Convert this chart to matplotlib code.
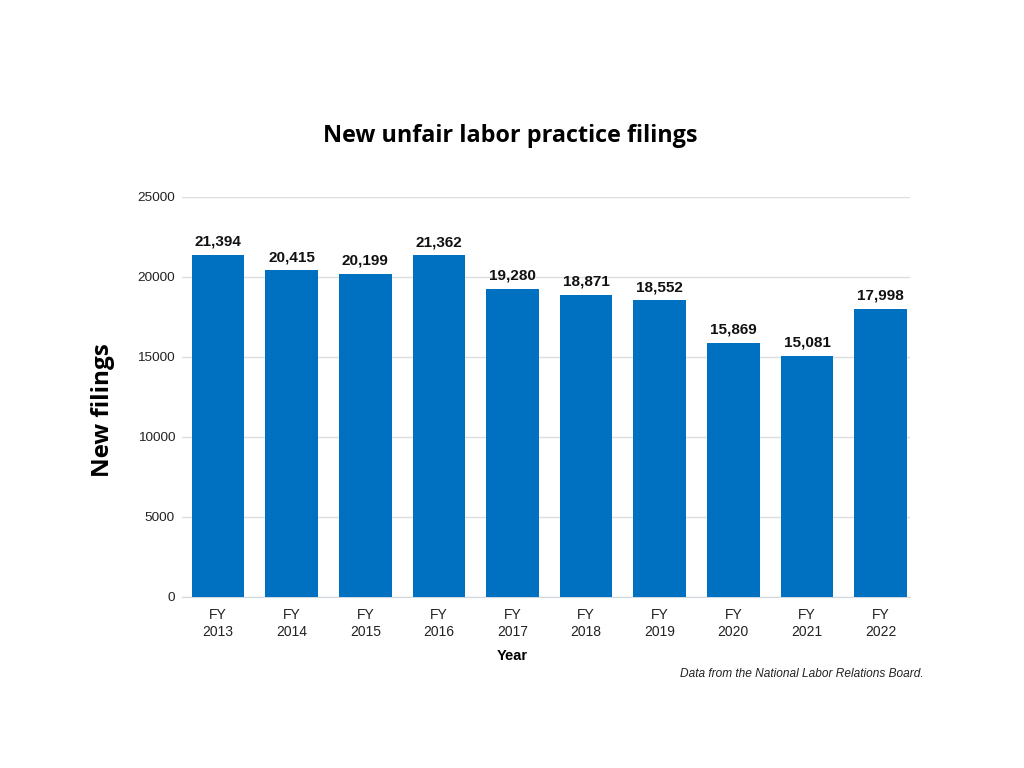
import matplotlib
matplotlib.use('Agg')
from matplotlib import pyplot as plt
import numpy as np

years = ['2013', '2014', '2015', '2016', '2017', '2018', '2019', '2020', '2021', '2022']
filings = [21394, 20415, 20199, 21362, 19280, 18871, 18552, 15869, 15081, 17998]
yticks = [0, 5000, 10000, 15000, 20000, 25000]

plt.rcParams['font.family'] = ['Liberation Sans', 'DejaVu Sans']

fig = plt.figure(figsize=(10.24, 7.68), dpi=100)
ax = fig.add_axes([0.1777, 0.2227, 0.711, 0.5208])

x = np.arange(len(years))
ax.bar(x, filings, width=0.715, color='#0070C0', zorder=3)
for xi, v in zip(x, filings):
    ax.text(xi, v + 380, f'{v:,}', ha='center', va='bottom',
            fontsize=11, fontweight='bold', color='#111111')

ax.set_xlim(-0.49, 9.4)
ax.set_ylim(0, 25000)
ax.set_yticks(yticks)
ax.set_yticklabels([str(t) for t in yticks], fontsize=9.7, color='#222222')
ax.set_xticks(x)
ax.set_xticklabels(['FY\n' + y for y in years], fontsize=10, color='#222222',
                   linespacing=1.3)
ax.tick_params(axis='both', length=0)
ax.tick_params(axis='y', pad=5)
ax.tick_params(axis='x', pad=8)
ax.yaxis.grid(True, color='#dddddd', linewidth=1, zorder=0)
for s in ['top', 'right', 'left']:
    ax.spines[s].set_visible(False)
ax.spines['bottom'].set_color('#cfd8e0')

fig.text(0.5, 0.146, 'Year', ha='center', va='center', fontsize=10.5, fontweight='bold')
fig.text(0.498, 0.823, 'New unfair labor practice filings', ha='center', va='center',
         fontsize=16.8, fontweight='bold', family=['Open Sans', 'DejaVu Sans'])
fig.text(0.101, 0.466, 'New filings', ha='center', va='center', rotation=90,
         fontsize=17.5, fontweight='bold', family=['Open Sans', 'DejaVu Sans'])
fig.text(0.902, 0.122, 'Data from the National Labor Relations Board.', ha='right',
         va='center', fontsize=8.6, style='italic', color='#222222')

fig.savefig('out.png', dpi=100)
